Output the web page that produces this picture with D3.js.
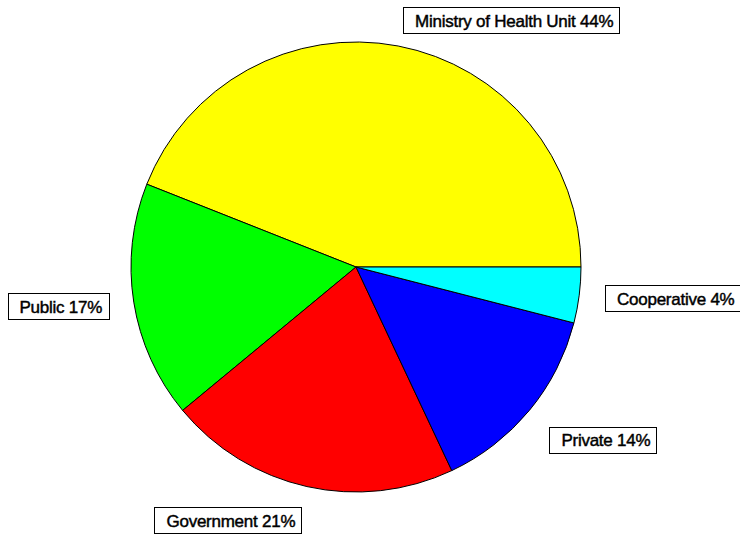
<!DOCTYPE html>
<html>
<head>
<meta charset="utf-8">
<script src="https://cdn.jsdelivr.net/npm/d3@7"></script>
<style>
  html, body { margin: 0; padding: 0; background: #fff; }
  svg { display: block; }
  text { font-family: "Liberation Sans", Arial, sans-serif; font-size: 17px; letter-spacing: -0.25px; fill: #000; stroke: #000; stroke-width: 0.45px; }
</style>
</head>
<body>
<svg id="chart" width="740" height="535"></svg>
<script>
// Share of facilities by ownership type
const categories = ["Ministry of Health Unit", "Public", "Government", "Private", "Cooperative"];
const shares = [44, 17, 21, 14, 4];
const colors = ["#ffff00", "#00ff00", "#ff0000", "#0000ff", "#00ffff"];

const width = 740, height = 535;
const cx = 356, cy = 267, radius = 225;
const labelRadius = 251;

const svg = d3.select("#chart");
const g = svg.append("g").attr("transform", `translate(${cx},${cy})`);

// Slices start at 3 o'clock and run counter-clockwise
const pie = d3.pie()
  .sort(null)
  .value(d => d.value)
  .startAngle(Math.PI / 2)
  .endAngle(Math.PI / 2 - 2 * Math.PI);

const data = categories.map((c, i) => ({ name: c, value: shares[i], color: colors[i] }));
const arcs = pie(data);

const arc = d3.arc().innerRadius(0).outerRadius(radius);

g.selectAll("path.slice")
  .data(arcs)
  .join("path")
  .attr("class", "slice")
  .attr("d", arc)
  .attr("fill", d => d.data.color)
  .attr("stroke", "#000")
  .attr("stroke-width", 1);

// Boxed labels anchored on each slice's mid-angle, kept inside the canvas
const boxH = 26, padL = 12, padR = 6;
const maxTop = height - cy - boxH - 2;
arcs.forEach(d => {
  const mid = (d.startAngle + d.endAngle) / 2;
  const ax = Math.sin(mid) * labelRadius;
  const ay = -Math.cos(mid) * labelRadius;
  const lg = g.append("g");
  const txt = lg.append("text")
    .text(`${d.data.name} ${d.data.value}%`)
    .attr("dominant-baseline", "central");
  const w = txt.node().getComputedTextLength();
  const boxW = w + padL + padR;
  const bx = ax >= 0 ? ax : ax - boxW;
  const by = ay > radius * 0.5 ? Math.min(ay, maxTop) : ay - boxH / 2;
  lg.insert("rect", "text")
    .attr("x", Math.round(bx) + 0.5)
    .attr("y", Math.round(by) + 0.5)
    .attr("width", Math.round(boxW))
    .attr("height", boxH)
    .attr("fill", "#fff")
    .attr("stroke", "#000")
    .attr("stroke-width", 1);
  txt.attr("x", bx + padL).attr("y", by + boxH / 2 + 1);
});
</script>
</body>
</html>
